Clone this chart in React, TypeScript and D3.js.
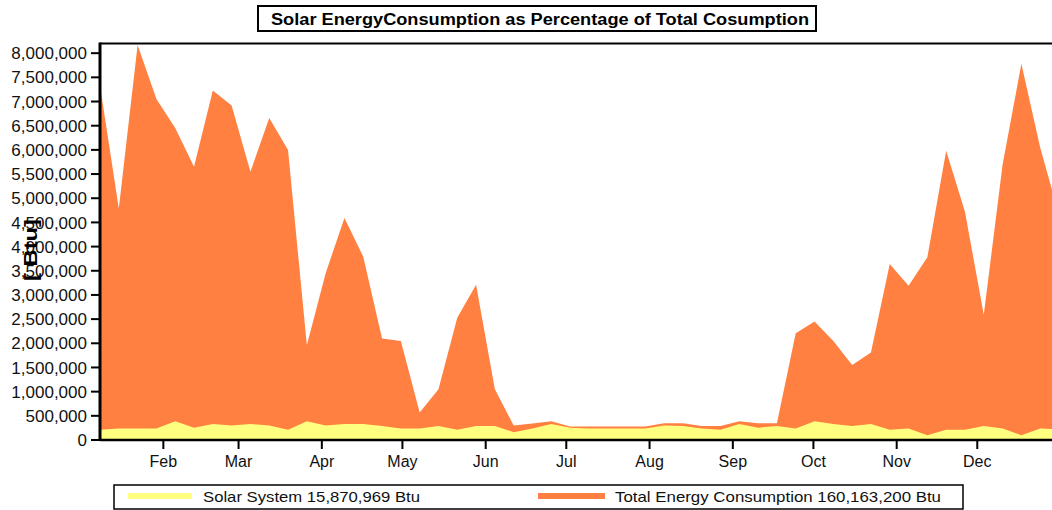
import React from "react";
import * as d3 from "d3";

// Weekly readings (index = week number, first week starts Jan 8)
const weekIndex = d3.range(52);
const totalConsumption = [
  7330000, 4790000, 8170000, 7050000, 6450000, 5650000, 7230000, 6920000, 5550000, 6660000,
  6000000, 1960000, 3450000, 4590000, 3790000, 2100000, 2050000, 570000, 1050000, 2530000,
  3210000, 1050000, 300000, 340000, 390000, 280000, 280000, 280000, 280000, 280000,
  345000, 345000, 290000, 290000, 390000, 345000, 345000, 2210000, 2450000, 2050000,
  1550000, 1810000, 3640000, 3190000, 3780000, 5980000, 4720000, 2590000, 5690000, 7780000,
  6050000, 4660000,
];
const solarSystem = [
  210000, 240000, 240000, 240000, 390000, 255000, 330000, 300000, 330000, 300000,
  210000, 390000, 300000, 330000, 330000, 290000, 240000, 240000, 290000, 210000,
  290000, 290000, 160000, 240000, 330000, 255000, 240000, 240000, 240000, 240000,
  300000, 290000, 240000, 210000, 330000, 255000, 290000, 240000, 390000, 330000,
  290000, 330000, 210000, 240000, 100000, 210000, 210000, 290000, 240000, 100000,
  240000, 220000,
];
const yTicks = d3.range(0, 8000001, 500000);
const seriesNames = ["Solar System 15,870,969 Btu", "Total Energy Consumption 160,163,200 Btu"];
const titleText = "Solar EnergyConsumption as Percentage of Total Cosumption";
const yTitle = "[ Btu]";

const W = 1052;
const H = 510;
const L = 100;
const R = 1052;
const T = 43.5;
const B = 440;

const start = new Date(2001, 0, 8, 10);
const dayMs = 86400000;
const end = new Date(start.getTime() + 354.4 * dayMs);
const weekDate = (i: number) => new Date(start.getTime() + i * 7 * dayMs);

export default function App() {
  const x = d3.scaleTime().domain([start, end]).range([L, R]);
  const y = d3.scaleLinear().domain([0, 8200000]).range([B, T]);
  const fmt = d3.format(",");
  const monthFmt = d3.timeFormat("%b");
  const monthTicks = d3.timeMonth.range(new Date(2001, 1, 1), new Date(2001, 11, 2));

  const areaGen = (vals: number[]) =>
    d3
      .area<number>()
      .x((i) => x(weekDate(i)))
      .y0(y(0))
      .y1((i) => y(vals[i]))(weekIndex) || "";

  const font = "'Liberation Sans', Arial, sans-serif";
  const orange = "#FF8040";
  const yellow = "#FFFF80";

  return (
    <svg width={W} height={H} style={{ position: "absolute", left: 0, top: 0 }} fontFamily={font}>
      <rect x={0} y={0} width={W} height={H} fill="#fff" />
      <defs>
        <clipPath id="plotClip">
          <rect x={L} y={T} width={R - L} height={B - T} />
        </clipPath>
      </defs>
      <g clipPath="url(#plotClip)">
        <path d={areaGen(totalConsumption)} fill={orange} />
        <path d={areaGen(solarSystem)} fill={yellow} />
      </g>
      {/* top border */}
      <line x1={L} x2={R} y1={T} y2={T} stroke="#000" strokeWidth={2} />
      {/* axes */}
      <line x1={L} x2={L} y1={T - 1} y2={B + 1} stroke="#000" strokeWidth={3} />
      <line x1={L} x2={R} y1={B} y2={B} stroke="#000" strokeWidth={2.5} />
      {yTicks.map((t) => (
        <g key={t}>
          <line x1={L - 9} x2={L} y1={y(t)} y2={y(t)} stroke="#000" strokeWidth={2} />
          <text x={87} y={y(t)} dy="0.36em" textAnchor="end" fontSize={17} fill="#111">
            {fmt(t)}
          </text>
        </g>
      ))}
      {monthTicks.map((m) => (
        <g key={m.getTime()}>
          <line x1={x(m)} x2={x(m)} y1={B} y2={B + 9} stroke="#000" strokeWidth={2} />
          <text x={x(m)} y={467} textAnchor="middle" fontSize={16} fill="#111">
            {monthFmt(m)}
          </text>
        </g>
      ))}
      <text
        transform="translate(37,250) rotate(-90)"
        textAnchor="middle"
        fontSize={18}
        fontWeight="bold"
        fill="#000"
        textLength={62}
        lengthAdjust="spacingAndGlyphs"
      >
        {yTitle}
      </text>
      {/* title */}
      <rect x={258} y={6} width={558} height={25} fill="#fff" stroke="#000" strokeWidth={2} />
      <text x={271} y={24.5} fontSize={16} fontWeight="bold" textLength={538} lengthAdjust="spacingAndGlyphs">
        {titleText}
      </text>
      {/* legend */}
      <rect x={114} y={485} width={849} height={24} fill="#fff" stroke="#000" strokeWidth={1.5} />
      <rect x={128} y={493} width={64} height={6} fill={yellow} />
      <text x={203} y={502} fontSize={15} textLength={217} lengthAdjust="spacingAndGlyphs" fill="#111">
        {seriesNames[0]}
      </text>
      <rect x={538} y={493} width={67} height={6} fill={orange} />
      <text x={615} y={502} fontSize={15} textLength={326} lengthAdjust="spacingAndGlyphs" fill="#111">
        {seriesNames[1]}
      </text>
    </svg>
  );
}
